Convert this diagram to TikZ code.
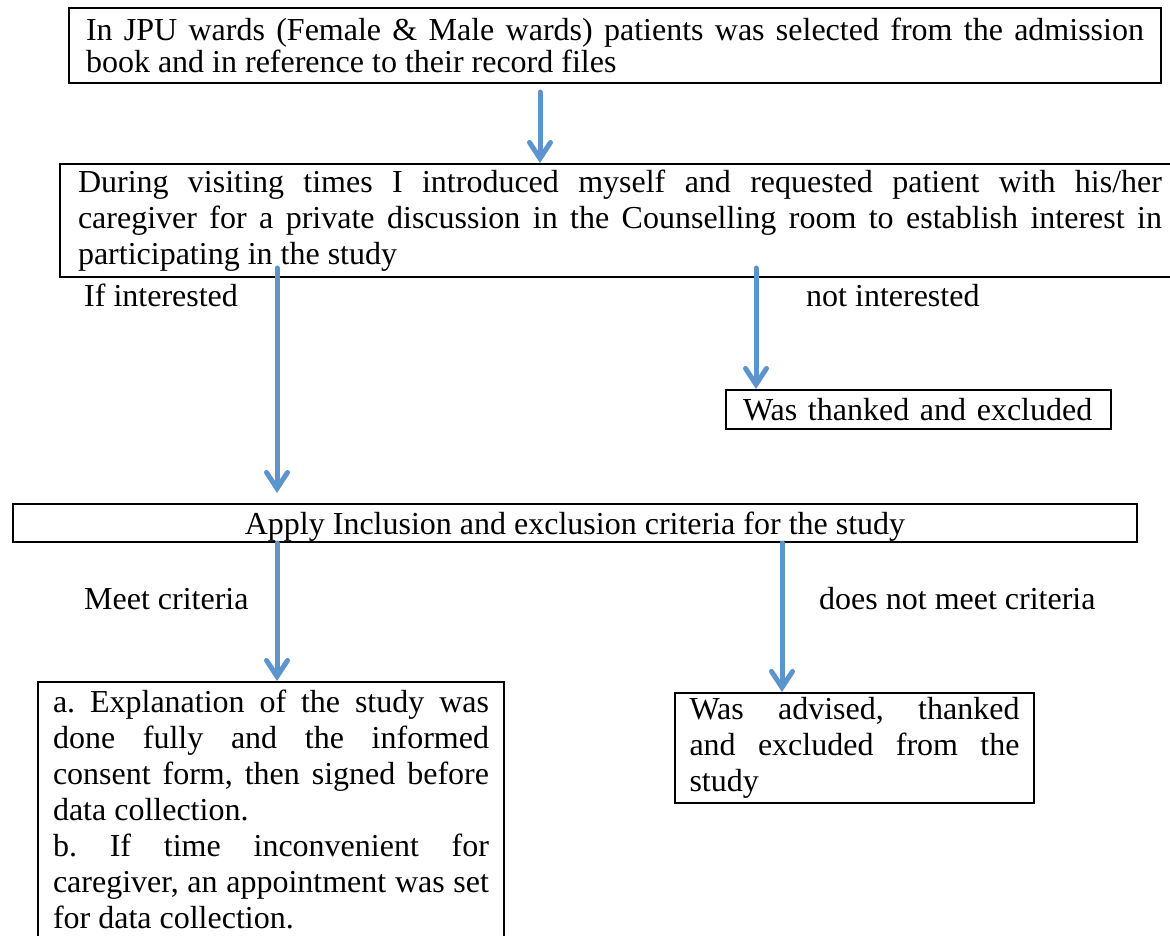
\documentclass[tikz,border=0pt]{standalone}
\usepackage{fontspec}
\setmainfont{Liberation Serif}
\usetikzlibrary{arrows.meta}
\definecolor{arrowblue}{RGB}{92,148,206}

\begin{document}
\tolerance=10000
\hyphenpenalty=10000
\parindent=0pt
\frenchspacing
\begin{tikzpicture}[x=1pt, y=1pt,
 txt/.style = {font=\fontsize{32}{36}\selectfont},
 box/.style = {draw, line width=2pt, anchor=north west, align=justify, txt},
 flow/.style = {arrowblue, line width=5pt, line cap=round, -{Straight Barb[length=16pt, width=21pt, line cap=round]}},
 lbl/.style = {anchor=base west, inner sep=0pt, txt}]

\useasboundingbox (0,0) rectangle (1170,-936);

% boxes
\node[box, text width=1058pt, inner xsep=17pt, minimum height=75pt, font=\fontsize{32}{32}\selectfont] (wards) at (68,-7) {In JPU wards (Female \& Male wards) patients was selected from the admission\linebreak book and in reference to their record files};

\node[box, text width=1084pt, inner xsep=18pt, minimum height=113pt] (visit) at (59,-163) {During visiting times I introduced myself and requested patient with his/her\linebreak caregiver for a private discussion in the Counselling room to establish interest in\linebreak participating in the study};

\node[box, text width=351pt, inner xsep=17pt, align=left, minimum height=39pt, text height=24pt, text depth=3pt] (thanked) at (725,-389) {Was thanked and excluded};

\node[box, align=center, inner sep=0pt, minimum width=1124pt, minimum height=38pt, text height=24pt, text depth=2pt] (criteria) at (12,-503) {Apply Inclusion and exclusion criteria for the study};

\node[box, text width=436pt, inner xsep=15pt, inner ysep=8pt] (explain) at (37,-681) {a. Explanation of the study was\linebreak done fully and the informed\linebreak consent form, then signed before\linebreak data collection.\\ b. If time inconvenient for\linebreak caregiver, an appointment was set\linebreak for data collection.};

\node[box, text width=330pt, inner xsep=14.5pt, minimum height=110pt] (advised) at (674,-692) {Was advised, thanked\linebreak and excluded from the\linebreak study};

% labels
\node[lbl] (yes1) at (84,-306) {If interested};
\node[lbl] (no1) at (806,-306) {not interested};
\node[lbl] (yes2) at (84,-609) {Meet criteria};
\node[lbl] (no2) at (819,-609) {does not meet criteria};

% arrows
\coordinate (colM) at (540,-92);
\coordinate (colL) at (277,-268);
\coordinate (colR) at (756,-268);
\coordinate (colR2) at (782,-268);

\draw[flow] (colM) -- (colM |- visit.north);
\draw[flow] (colL) -- ([yshift=10pt]colL |- criteria.north);
\draw[flow] (colR) -- (colR |- thanked.north);
\draw[flow] (criteria.south -| colL) -- (colL |- explain.north);
\draw[flow] (criteria.south -| colR2) -- (colR2 |- advised.north);

\end{tikzpicture}
\end{document}
